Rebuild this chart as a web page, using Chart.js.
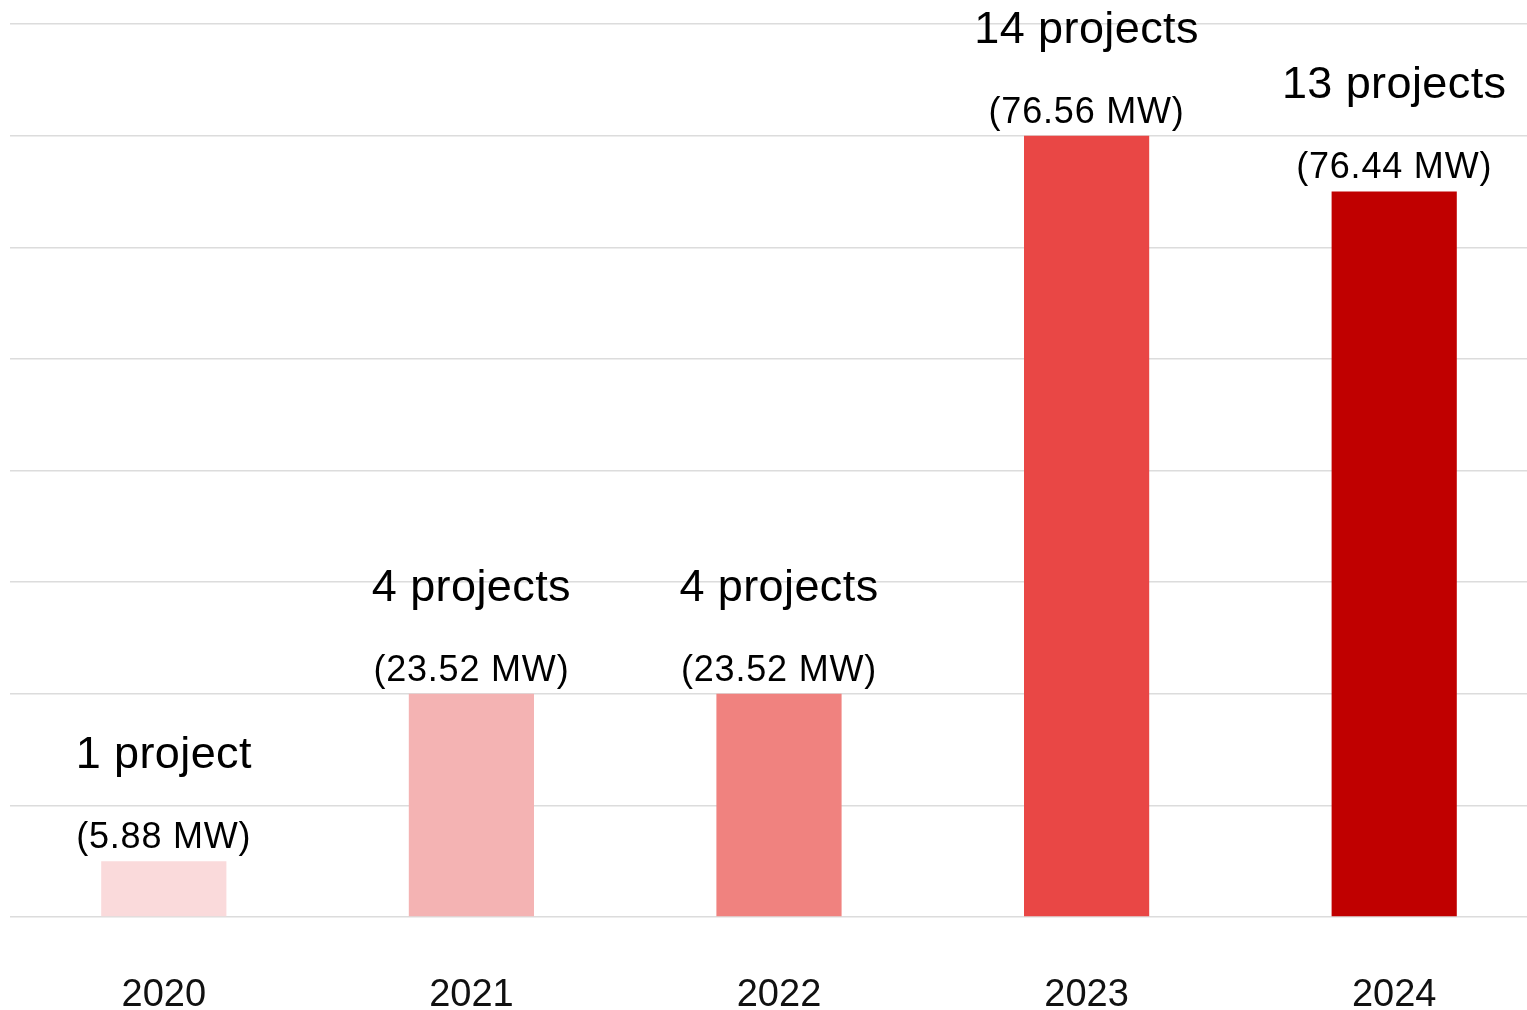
<!DOCTYPE html>
<html>
<head>
<meta charset="utf-8">
<script src="https://cdn.jsdelivr.net/npm/chart.js@4/dist/chart.umd.min.js"></script>
<style>
  html, body { margin: 0; padding: 0; background: #fff; overflow: hidden; }
  #wrap { width: 1527px; height: 1010px; overflow: hidden; }
</style>
</head>
<body>
<div id="wrap"><canvas id="projectsChart" width="1548" height="1010"></canvas></div>
<script>
const years = ["2020", "2021", "2022", "2023", "2024"];
const projects = [1, 4, 4, 14, 13];
const capacityMW = ["5.88", "23.52", "23.52", "76.56", "76.44"];
const barColors = ['#fadadb', '#f4b3b3', '#f0827f', '#e94745', '#c00000'];

// two-line label above each bar: "N projects" and "(x MW)"
const barLabels = {
  id: 'barLabels',
  afterDatasetsDraw(chart) {
    const ctx = chart.ctx;
    const meta = chart.getDatasetMeta(0);
    ctx.save();
    ctx.textAlign = 'center';
    ctx.textBaseline = 'alphabetic';
    ctx.fillStyle = '#000';
    meta.data.forEach(function(bar, i) {
      const n = projects[i];
      ctx.font = '45px "Liberation Sans", Arial, sans-serif';
      ctx.letterSpacing = '0.4px';
      ctx.fillText(n + (n === 1 ? ' project' : ' projects'), bar.x, bar.y - 93);
      ctx.font = '36px "Liberation Sans", Arial, sans-serif';
      ctx.letterSpacing = '0.8px';
      ctx.fillText('(' + capacityMW[i] + ' MW)', bar.x, bar.y - 13);
    });
    ctx.restore();
  }
};

new Chart(document.getElementById('projectsChart').getContext('2d'), {
  type: 'bar',
  data: {
    labels: years,
    datasets: [{
      data: projects,
      backgroundColor: barColors,
      barPercentage: 0.407,
      categoryPercentage: 1
    }]
  },
  options: {
    responsive: false,
    animation: false,
    layout: { padding: { left: 10, right: 0, top: 24, bottom: 0 } },
    plugins: {
      legend: { display: false },
      tooltip: { enabled: false }
    },
    scales: {
      x: {
        grid: { display: false, drawTicks: false },
        border: { display: false },
        afterFit: function(scale) { scale.height = 93; },
        ticks: {
          padding: 60,
          color: '#111',
          font: { family: '"Liberation Sans", Arial, sans-serif', size: 38, lineHeight: 1 }
        }
      },
      y: {
        min: 0,
        max: 16,
        grid: { color: '#dcdcdc', lineWidth: 1.5, drawTicks: false },
        border: { display: false },
        ticks: { display: false, stepSize: 2 }
      }
    }
  },
  plugins: [barLabels]
});
</script>
</body>
</html>
